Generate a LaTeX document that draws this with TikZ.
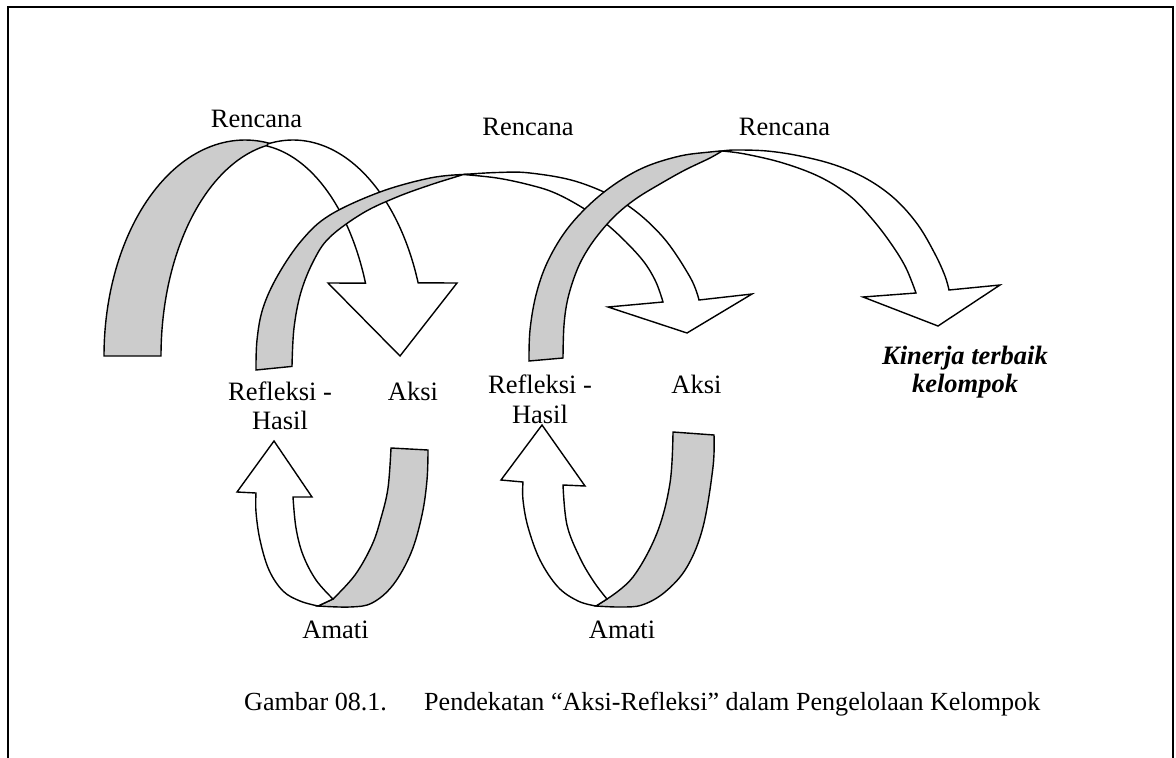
\documentclass[tikz,border=0pt]{standalone}
\usepackage{fontspec}
\setmainfont{Liberation Serif}
\definecolor{bandgray}{RGB}{204,204,204}
\tikzset{
  back/.style={fill=bandgray, draw=black, line width=1.4pt},
  front/.style={fill=white, draw=black, line width=1.4pt},
  frame/.style={draw=black, line width=2pt},
  lbl/.style={font=\fontsize{26.5}{31}\selectfont, inner sep=0pt, anchor=base},
  lblbi/.style={lbl, font=\fontsize{26.5}{31}\selectfont\bfseries\itshape},
  captext/.style={font=\fontsize{26.1}{31}\selectfont, inner sep=0pt, anchor=base west},
  sm/.style={smooth, tension=0.6},
}
\begin{document}
\begin{tikzpicture}[x=1pt,y=-1pt]
\useasboundingbox (0,0) rectangle (1176,758);
% open frame
\draw[frame] (8,758) -- (8,7) -- (1173,7) -- (1173,758);

% ---- first large curved arrow ----
\filldraw[back]
  plot[domain=180:280, samples=60, variable=\t] ({245+141*cos(\t)},{356+216*sin(\t)})
  -- plot[domain=260:180, samples=60, variable=\t] ({290+129*cos(\t)},{356+214*sin(\t)})
  -- cycle;
\filldraw[front]
  plot[domain=259:340.2, samples=60, variable=\t] ({293+133*cos(\t)},{356+216*sin(\t)})
  -- (457,283) -- (400,356) -- (328,283)
  -- plot[domain=339.9:278, samples=60, variable=\t] ({250+123*cos(\t)},{356+212*sin(\t)})
  -- cycle;

% ---- second large curved arrow ----
\filldraw[back]
  plot[sm] coordinates {(256,370) (257,340) (263,308) (278,275) (302,240) (330,215) (380,192) (430,178) (463,174.5)}
  -- plot[sm] coordinates {(463,174.5) (457,176.5) (430,185) (397,197) (363,213) (330,237) (314,260) (301,292) (294,328) (292,366.4)}
  -- cycle;
\filldraw[front]
  plot[sm] coordinates {(463,174.5) (497,172.5) (530,173) (578,182) (624,203) (662,236) (690,277) (699,300)}
  -- (752,294) -- (687,333) -- (608,307)
  -- plot[sm] coordinates {(663,302) (655,280) (640,257) (610,227) (583,208) (555,193) (530,185) (497,178) (463,174.5)}
  -- cycle;

% ---- third large curved arrow ----
\filldraw[back]
  plot[sm] coordinates {(529,361) (530,330) (536,295) (547,263) (565,232) (588,206) (615,184) (645,167) (680,156) (710,152) (722,151)}
  -- plot[sm] coordinates {(722,151) (710,158) (685,170) (660,184) (637,198) (618,213) (602,230) (588,249) (577,270) (568,298) (564,325) (563,358)}
  -- cycle;
\filldraw[front]
  plot[sm] coordinates {(722,151) (735,150) (767,151) (800,156) (835,165) (867,179) (895,199) (918,225) (935,254) (945,276) (949,290)}
  -- (1000,285) -- (938,326) -- (863,297)
  -- plot[sm] coordinates {(916,293) (906,268) (892,245) (873,220) (850,196) (820,177) (783,163) (745,154) (722,151)}
  -- cycle;

% ---- left U-turn arrow ----
\filldraw[back]
  (391,448) -- (428,450)
  -- plot[sm] coordinates {(428,450) (427,480) (422,515) (411,553) (393,585) (372,603) (350,607) (318,606)}
  -- plot[sm] coordinates {(333,599) (355,575) (372,545) (381,518) (388,488) (391,448)}
  -- cycle;
\filldraw[front]
  plot[sm] coordinates {(318,606) (300,601) (283,591) (269,570) (260,540) (256,512) (256,493)}
  -- (237,492) -- (274,441) -- (312,497) -- (293,497)
  -- plot[sm] coordinates {(293,497) (296,528) (303,555) (316,580) (333,599)}
  -- cycle;

% ---- right U-turn arrow ----
\filldraw[back]
  (673,432) -- (714,435)
  -- plot[sm] coordinates {(714,435) (713,467) (703,527) (687,567) (665,592) (642,605) (620,607) (596,606)}
  -- plot[sm] coordinates {(607,599) (633,577) (657,533) (670,483) (673,432)}
  -- cycle;
\filldraw[front]
  plot[sm] coordinates {(596,606) (578,601) (558,587) (540,560) (528,527) (523,500) (523,482)}
  -- (501,480) -- (542,425) -- (585,486) -- (563,485)
  -- plot[sm] coordinates {(563,485) (567,525) (580,558) (594,582) (607,599)}
  -- cycle;

% ---- labels ----
\node[lbl] (ren1) at (256.5,127) {Rencana};
\node[lbl] (ren2) at (528,135) {Rencana};
\node[lbl] (ren3) at (784.5,135) {Rencana};
\node[lbl] (refA) at (280,400) {Refleksi -};
\node[lbl] (hasA) at (280,429) {Hasil};
\node[lbl] (aksA) at (413,400) {Aksi};
\node[lbl] (refB) at (540,393) {Refleksi -};
\node[lbl] (hasB) at (540,423) {Hasil};
\node[lbl] (aksB) at (696.5,393) {Aksi};
\node[lbl] (amaA) at (335.5,638) {Amati};
\node[lbl] (amaB) at (622,638) {Amati};
\node[lblbi] (kinA) at (965,364) {Kinerja terbaik};
\node[lblbi] (kinB) at (965,392) {kelompok};
\node[captext] (capA) at (244,710) {Gambar 08.1.};
\node[captext] (capB) at (424,710) {Pendekatan “Aksi-Refleksi” dalam Pengelolaan Kelompok};
\end{tikzpicture}
\end{document}
